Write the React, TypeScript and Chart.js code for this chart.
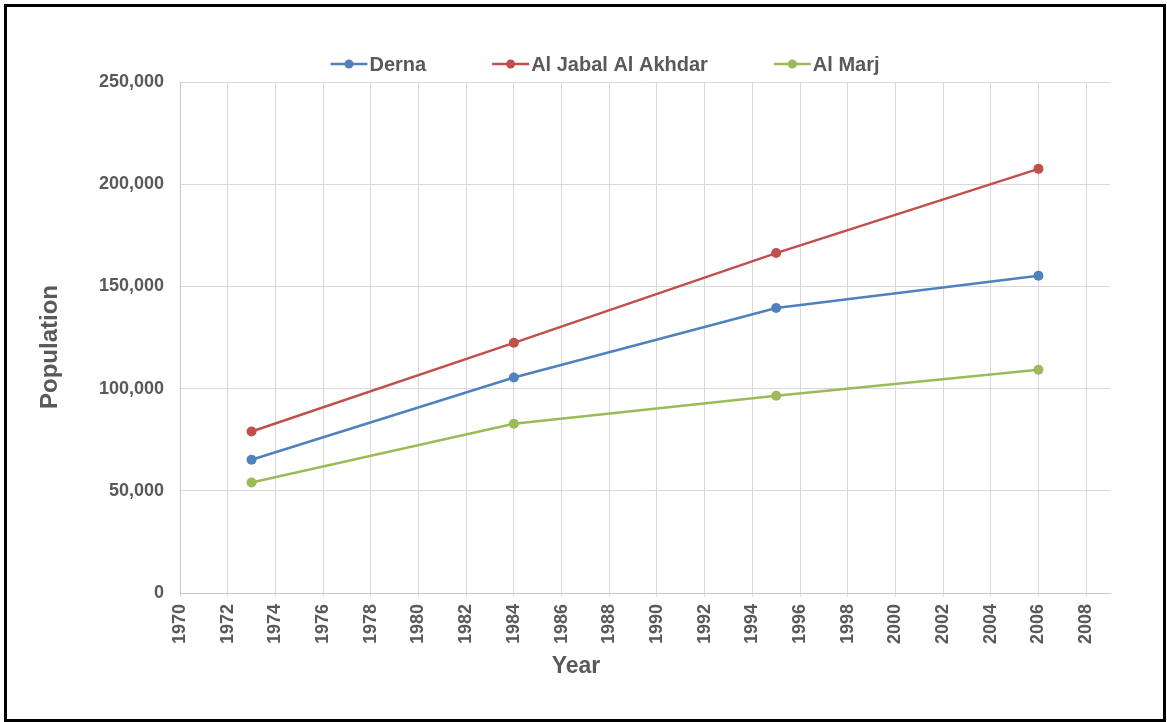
import { useEffect, useRef } from "react";
import { Chart, registerables } from "chart.js";

Chart.register(...registerables);

// Census years and population per district
const years = [1973, 1984, 1995, 2006];
const derna = [65200, 105400, 139400, 155200];
const jabalAkhdar = [79000, 122400, 166300, 207500];
const marj = [54100, 82800, 96500, 109200];

const seriesNames = ["Derna", "Al Jabal Al Akhdar", "Al Marj"];
const seriesColors = ["#4F81BD", "#C0504D", "#9BBB59"];
const seriesValues = [derna, jabalAkhdar, marj];

const xTitle = "Year";
const yTitle = "Population";

const FONT = '"Liberation Sans", Arial, sans-serif';
const TEXT = "#595959";
const W = 1167;
const H = 722;

// Draws the line-and-dot legend plus the two axis titles
const decorPlugin = {
  id: "decor",
  afterDraw(chart: any) {
    const ctx = chart.ctx as CanvasRenderingContext2D;
    ctx.save();

    // Legend
    ctx.font = `bold 20px ${FONT}`;
    ctx.textBaseline = "middle";
    ctx.textAlign = "left";
    const markerW = 37;
    const markerGap = 2;
    const itemGap = 66;
    const items = chart.data.datasets.map((ds: any) => ({
      label: ds.label as string,
      color: ds.borderColor as string,
      w: markerW + markerGap + ctx.measureText(ds.label).width,
    }));
    const total =
      items.reduce((s: number, it: any) => s + it.w, 0) + itemGap * (items.length - 1);
    let x = 605 - total / 2;
    const ly = 64;
    for (const it of items) {
      ctx.strokeStyle = it.color;
      ctx.lineWidth = 2.5;
      ctx.beginPath();
      ctx.moveTo(x, ly);
      ctx.lineTo(x + markerW, ly);
      ctx.stroke();
      ctx.fillStyle = it.color;
      ctx.beginPath();
      ctx.arc(x + markerW / 2, ly, 4.5, 0, Math.PI * 2);
      ctx.fill();
      ctx.fillStyle = TEXT;
      ctx.fillText(it.label, x + markerW + markerGap, ly + 1);
      x += it.w + itemGap;
    }

    // Axis titles
    ctx.fillStyle = TEXT;
    ctx.textAlign = "center";
    ctx.font = `bold 23px ${FONT}`;
    ctx.fillText(xTitle, 576, 667);

    ctx.font = `bold 24px ${FONT}`;
    ctx.translate(50, 347);
    ctx.rotate(-Math.PI / 2);
    ctx.fillText(yTitle, 0, 0);

    ctx.restore();
  },
};

export default function App() {
  const canvasRef = useRef<HTMLCanvasElement | null>(null);

  useEffect(() => {
    document.body.style.margin = "0";
    const canvas = canvasRef.current;
    if (!canvas) return;

    const chart = new Chart(canvas, {
      type: "line",
      data: {
        datasets: seriesNames.map((name, i) => ({
          label: name,
          data: years.map((yr, j) => ({ x: yr, y: seriesValues[i][j] })),
          borderColor: seriesColors[i],
          backgroundColor: seriesColors[i],
          pointBackgroundColor: seriesColors[i],
          pointBorderWidth: 0,
          pointRadius: 5,
          borderWidth: 2.5,
          tension: 0,
          fill: false,
        })),
      },
      options: {
        responsive: false,
        animation: false,
        devicePixelRatio: 1,
        layout: { padding: { top: 82, right: 57, bottom: 0, left: 0 } },
        plugins: {
          legend: { display: false },
          tooltip: { enabled: false },
        },
        scales: {
          x: {
            type: "linear",
            min: 1970,
            max: 2009,
            afterFit: (scale: any) => {
              scale.height = H - 593;
            },
            ticks: {
              stepSize: 2,
              includeBounds: false,
              autoSkip: false,
              maxRotation: 90,
              minRotation: 90,
              padding: 7,
              color: TEXT,
              font: { family: FONT, size: 18, weight: "bold" },
              callback: (v: any) => String(v),
            },
            grid: {
              color: "#D9D9D9",
              lineWidth: 1,
              tickLength: 4,
              tickColor: "#D9D9D9",
            },
            border: { color: "#C8C8C8", width: 1 },
          },
          y: {
            min: 0,
            max: 250000,
            afterFit: (scale: any) => {
              scale.width = 180;
            },
            ticks: {
              stepSize: 50000,
              padding: 16,
              color: TEXT,
              font: { family: FONT, size: 18, weight: "bold" },
              callback: (v: any) => Number(v).toLocaleString("en-US"),
            },
            grid: {
              color: "#D9D9D9",
              lineWidth: 1,
              drawTicks: false,
            },
            border: { color: "#C8C8C8", width: 1 },
          },
        },
      },
      plugins: [decorPlugin],
    } as any);

    return () => chart.destroy();
  }, []);

  return (
    <div style={{ position: "relative", width: W, height: H, background: "#fff" }}>
      <canvas ref={canvasRef} width={W} height={H} style={{ display: "block" }} />
      <div
        style={{
          position: "absolute",
          left: 4,
          top: 4,
          width: 1162,
          height: 718,
          border: "3px solid #000",
          boxSizing: "border-box",
          pointerEvents: "none",
        }}
      />
    </div>
  );
}
